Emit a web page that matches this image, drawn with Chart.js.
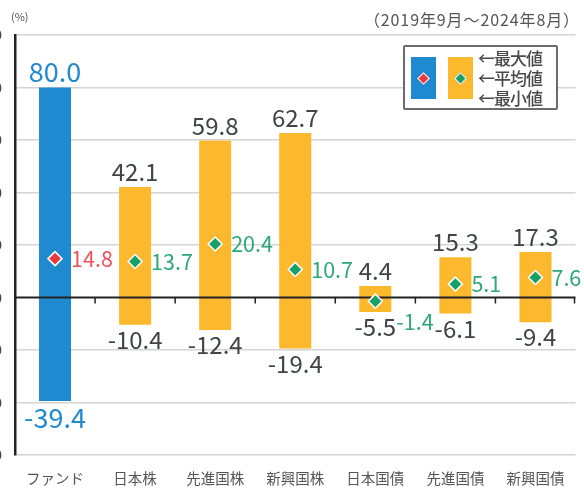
<!DOCTYPE html>
<html>
<head>
<meta charset="utf-8">
<script src="https://cdn.jsdelivr.net/npm/chart.js@4"></script>
<style>
  html, body { margin:0; padding:0; background:#fff; width:584px; height:489px; overflow:hidden; position:relative; }
  body { font-family: "Noto Sans CJK JP", "Noto Sans", sans-serif; }
  #wrap { position:absolute; left:-40px; top:0; width:624px; height:489px; }
  .t { position:absolute; color:#555; white-space:nowrap; }
  #unit { left:11px; top:8px; font-size:11px; }
  #period { right:4px; top:7px; font-size:16px; letter-spacing:0.9px; }
  #legend { position:absolute; left:403px; top:45px; width:151px; height:61px; border:2px solid #6b6b6b; border-radius:2px; background:#fff; }
  .sw { position:absolute; top:10px; width:25px; height:42px; }
  .dm { position:absolute; left:8px; top:17px; width:7px; height:7px; transform:rotate(45deg); border:1px solid #fff; }
  .lt { position:absolute; left:73px; font-size:17px; font-weight:500; color:#4a4a4a; line-height:17px; letter-spacing:-1px; }
</style>
</head>
<body>
<div id="wrap"><canvas id="c" width="624" height="489"></canvas></div>
<div class="t" id="unit">(%)</div>
<div class="t" id="period">（2019年9月～2024年8月）</div>
<div id="legend">
  <div class="sw" style="left:6px;background:#1f8ad0"><div class="dm" style="background:#e8393f"></div></div>
  <div class="sw" style="left:43px;background:#fdb92e"><div class="dm" style="background:#17a06a"></div></div>
  <div class="lt" style="top:2px">←最大値</div>
  <div class="lt" style="top:22px">←平均値</div>
  <div class="lt" style="top:42px">←最小値</div>
</div>
<script>
const categories = ['ファンド','日本株','先進国株','新興国株','日本国債','先進国債','新興国債'];
const maxValues = [80.0, 42.1, 59.8, 62.7, 4.4, 15.3, 17.3];
const avgValues = [14.8, 13.7, 20.4, 10.7, -1.4, 5.1, 7.6];
const minValues = [-39.4, -10.4, -12.4, -19.4, -5.5, -6.1, -9.4];
const yTicks = [100, 80, 60, 40, 20, 0, -20, -40, -60];

const BLUE = '#1f8ad0', YELLOW = '#fdb92e', RED = '#e8393f', GREEN = '#17a06a';
const TXT = '#3f4447', FONT = '"Noto Sans CJK JP", "Noto Sans", sans-serif';

function fmt(v) { return (v < 0 ? '-' : '') + Math.abs(v).toFixed(1); }

const zeroLine = {
  id: 'zeroLine',
  afterDatasetDraw(chart, args) {
    if (args.meta.type !== 'bar') return;
    const ctx = chart.ctx, y = chart.scales.y, x = chart.scales.x, a = chart.chartArea;
    const py = y.getPixelForValue(0);
    ctx.save();
    ctx.strokeStyle = '#222';
    ctx.lineWidth = 2;
    ctx.beginPath(); ctx.moveTo(a.left, py); ctx.lineTo(a.right, py); ctx.stroke();
    ctx.lineWidth = 1.5;
    for (let i = 0; i < categories.length; i++) {
      const right = i + 1 < categories.length ? (x.getPixelForValue(i) + x.getPixelForValue(i + 1)) / 2 : a.right - 1;
      ctx.beginPath(); ctx.moveTo(right, py); ctx.lineTo(right, py + 6); ctx.stroke();
    }
    ctx.restore();
  }
};

const valueLabels = {
  id: 'valueLabels',
  afterDraw(chart) {
    const ctx = chart.ctx, y = chart.scales.y;
    const bars = chart.getDatasetMeta(0).data;
    ctx.save();
    ctx.textAlign = 'center';
    for (let i = 0; i < categories.length; i++) {
      const cx = bars[i].x;
      const big = i === 0;
      ctx.fillStyle = big ? BLUE : TXT;
      ctx.font = (big ? '27px ' : '24px ') + FONT;
      ctx.textBaseline = 'alphabetic';
      ctx.fillText(fmt(maxValues[i]), cx, y.getPixelForValue(maxValues[i]) - 6);
      ctx.textBaseline = 'top';
      ctx.fillText(fmt(minValues[i]), cx, y.getPixelForValue(minValues[i]) + 3);
      ctx.save();
      ctx.textAlign = 'left';
      ctx.textBaseline = 'middle';
      ctx.font = '21.5px ' + FONT;
      ctx.fillStyle = big ? '#f0505a' : '#2aa876';
      const ay = y.getPixelForValue(avgValues[i]);
      if (avgValues[i] < 0) ctx.fillText(fmt(avgValues[i]), cx + 21, ay + 21);
      else ctx.fillText(fmt(avgValues[i]), cx + 16, ay);
      ctx.restore();
    }
    ctx.restore();
  }
};

new Chart(document.getElementById('c'), {
  data: {
    labels: categories,
    datasets: [
      {
        type: 'bar',
        data: categories.map((c, i) => [minValues[i], maxValues[i]]),
        backgroundColor: categories.map((c, i) => i === 0 ? BLUE : YELLOW),
        barPercentage: 0.4,
        categoryPercentage: 1,
        borderWidth: 0,
        order: 2
      },
      {
        type: 'line',
        data: avgValues,
        showLine: false,
        pointStyle: 'rectRot',
        pointRadius: 7,
        pointBackgroundColor: categories.map((c, i) => i === 0 ? RED : GREEN),
        pointBorderColor: '#ffffff',
        pointBorderWidth: 1.5,
        order: 1
      }
    ]
  },
  options: {
    responsive: false,
    devicePixelRatio: 1,
    animation: false,
    layout: { padding: { top: 35, right: 7, left: 0, bottom: 0 } },
    plugins: { legend: { display: false }, tooltip: { enabled: false } },
    scales: {
      x: {
        grid: { display: false },
        border: { display: false },
        ticks: { color: '#555', font: { family: FONT, size: 14.5 }, padding: 7, maxRotation: 0, autoSkip: false },
        afterFit(s) { s.height = 34; }
      },
      y: {
        min: -60, max: 100,
        afterBuildTicks(s) { s.ticks = yTicks.map(v => ({ value: v })); },
        grid: {
          color: c => c.tick && c.tick.value === 0 ? 'rgba(0,0,0,0)' : '#d4d4d4',
          lineWidth: 1.5,
          drawTicks: false
        },
        border: { display: true, color: '#222', width: 2.5 },
        ticks: { color: '#444', font: { family: FONT, size: 14 }, padding: 13 },
        afterFit(s) { s.width = 55; }
      }
    }
  },
  plugins: [zeroLine, valueLabels]
});
</script>
</body>
</html>
